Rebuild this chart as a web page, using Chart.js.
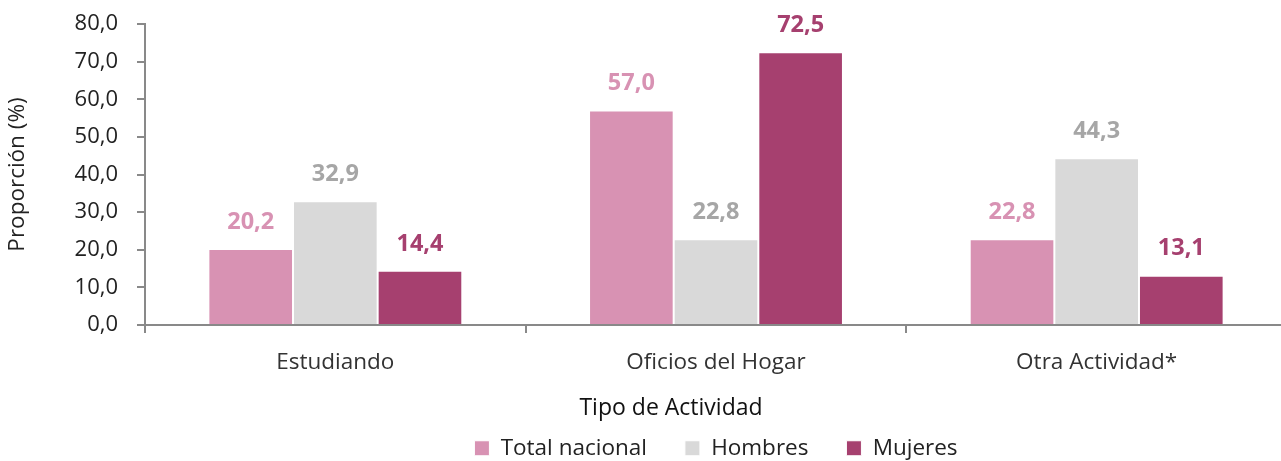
<!DOCTYPE html>
<html>
<head>
<meta charset="utf-8">
<script src="https://cdn.jsdelivr.net/npm/chart.js@4.4.1/dist/chart.umd.min.js"></script>
<style>
html,body{margin:0;padding:0;background:#fff;overflow:hidden;}
#wrap{width:1287px;height:461px;position:relative;}
</style>
</head>
<body>
<div id="wrap"><canvas id="c" width="1287" height="461"></canvas></div>
<script>
const categories = ["Estudiando", "Oficios del Hogar", "Otra Actividad*"];
const totalNacional = [20.2, 57.0, 22.8];
const hombres = [32.9, 22.8, 44.3];
const mujeres = [14.4, 72.5, 13.1];
const seriesNames = ["Total nacional", "Hombres", "Mujeres"];
const yTicks = [0, 10, 20, 30, 40, 50, 60, 70, 80];
const xTitle = "Tipo de Actividad";
const yTitle = "Proporción (%)";

const barColors = ["#D892B3", "#D9D9D9", "#A6406F"];
const labelColors = ["#D892B3", "#A6A6A6", "#A6406F"];
const FONT = "'Open Sans', sans-serif";
const fmt = v => v.toFixed(1).replace('.', ',');

const dataLabels = {
  id: 'dataLabels',
  afterDatasetsDraw(chart) {
    const ctx = chart.ctx;
    ctx.save();
    ctx.font = "bold 23.5px " + FONT;
    ctx.textAlign = 'center';
    ctx.textBaseline = 'middle';
    chart.data.datasets.forEach((ds, i) => {
      const meta = chart.getDatasetMeta(i);
      meta.data.forEach((bar, j) => {
        ctx.fillStyle = labelColors[i];
        ctx.fillText(fmt(ds.data[j]), bar.x, bar.y - 27);
      });
    });
    ctx.restore();
  }
};

const xTitlePlugin = {
  id: 'xTitlePlugin',
  afterDraw(chart) {
    const ctx = chart.ctx;
    const a = chart.chartArea;
    ctx.save();
    ctx.font = "23px " + FONT;
    ctx.fillStyle = '#111';
    ctx.textAlign = 'center';
    ctx.textBaseline = 'middle';
    ctx.fillText(xTitle, (a.left + a.right) / 2 - 45, 408);
    ctx.restore();
  }
};

const legendFit = {
  id: 'legendFit',
  beforeInit(chart) {
    const lg = chart.legend;
    if (!lg) return;
    const orig = lg.fit;
    lg.fit = function () { orig.call(this); this.height = 62; };
  }
};

new Chart(document.getElementById('c'), {
  type: 'bar',
  data: {
    labels: categories,
    datasets: [
      { label: seriesNames[0], data: totalNacional, backgroundColor: barColors[0] },
      { label: seriesNames[1], data: hombres, backgroundColor: barColors[1] },
      { label: seriesNames[2], data: mujeres, backgroundColor: barColors[2] }
    ].map(d => Object.assign(d, { borderColor: '#ffffff', borderWidth: 1, categoryPercentage: 0.667, barPercentage: 1.0 }))
  },
  options: {
    responsive: false,
    animation: false,
    devicePixelRatio: 1,
    layout: { padding: { top: 24, left: 0, right: 0, bottom: 0 } },
    plugins: {
      legend: {
        position: 'bottom',
        fullSize: false,
        labels: {
          boxWidth: 15, boxHeight: 15, padding: 38,
          color: '#222', font: { family: FONT, size: 22.5 }
        }
      },
      tooltip: { enabled: false }
    },
    scales: {
      x: {
        afterFit(s) { s.height = 74; s.paddingLeft = 0; s.paddingRight = 0; },
        grid: { drawOnChartArea: false, drawTicks: true, tickLength: 8, color: '#898989', lineWidth: 2, offset: true },
        border: { display: true, color: '#898989', width: 2 },
        ticks: { color: '#333', padding: 16, font: { family: FONT, size: 22.5 } }
      },
      y: {
        min: 0, max: 80,
        afterFit(s) { s.width = 145; s.paddingTop = 0; s.paddingBottom = 0; },
        afterBuildTicks(s) { s.ticks = yTicks.map(v => ({ value: v })); },
        grid: { drawOnChartArea: false, drawTicks: true, tickLength: 8, color: '#898989', lineWidth: 2 },
        border: { display: true, color: '#898989', width: 2 },
        ticks: { color: '#222', padding: 19, font: { family: FONT, size: 22 }, callback: v => fmt(v) },
        title: { display: true, text: yTitle, color: '#222', padding: { top: 4, bottom: 0 }, font: { family: FONT, size: 22.5 } }
      }
    }
  },
  plugins: [dataLabels, xTitlePlugin, legendFit]
});
</script>
</body>
</html>
